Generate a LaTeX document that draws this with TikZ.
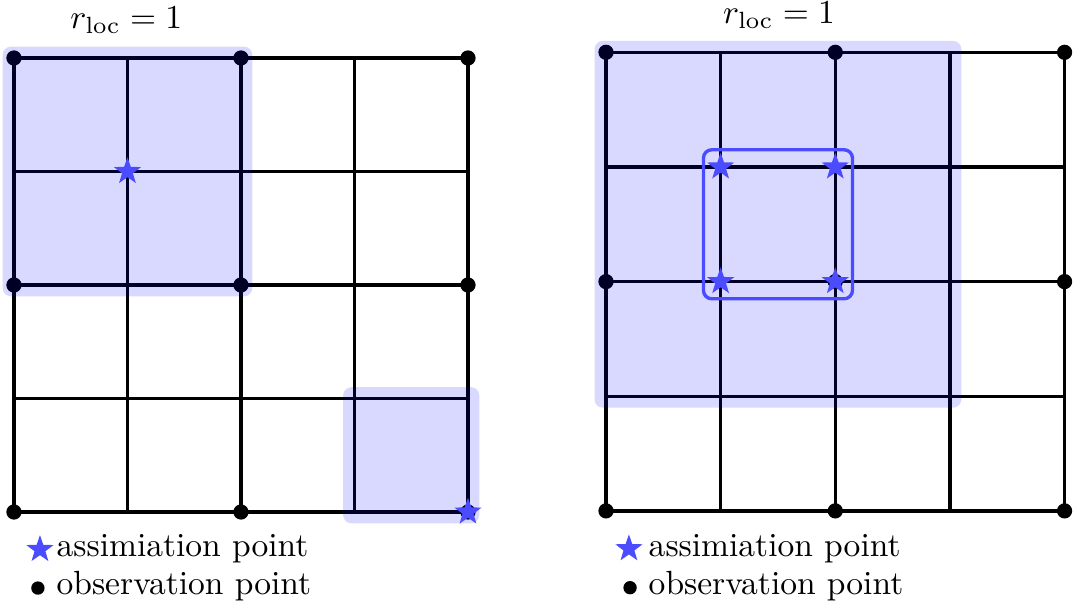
\documentclass[tikz,border=0pt]{standalone}
\usepackage{amsmath}
\usepackage{amssymb}
\usepackage{xcolor}
\usetikzlibrary{shapes.geometric}

\begin{document}
\begin{tikzpicture}[x=1.19cm, y=1.19cm]
        \tikzstyle{gridline} = [line width=1pt, black, step=1]
        \tikzstyle{obs} = [circle, fill=black, inner sep=0pt, minimum size=0.16cm]
        \tikzstyle{assim} = [star, star points=5, star point ratio=2.5, fill=blue!70, inner sep=0pt, minimum size=0.3cm]
        \tikzstyle{region} = [fill=blue, fill opacity=0.15, rounded corners=2.5pt]
        \tikzstyle{window} = [draw=blue!70, line width=1pt, rounded corners=2.5pt]
        \tikzstyle{legend} = [anchor=base west, inner sep=0pt]

        \useasboundingbox (-0.123,-0.872) rectangle (9.348,4.511);

        % left grid
        \draw [gridline] (0,0) grid (4,4);
        \foreach \x in {0,2,4}
            \foreach \y in {0,2,4}
                \node (L\x\y) [obs] at (\x,\y) {};
        \fill [region] (-0.1,1.9) rectangle (2.1,4.1);
        \fill [region] (2.9,-0.1) rectangle (4.1,1.1);
        \node (La) [assim] at (1,3) {};
        \node (Lb) [assim] at (4,0) {};
        \node (Ltitle) [anchor=base] at (0.99,4.264) {$r_{\text{loc}} = 1$};
        \node (Lstar) [assim] at (0.229,-0.33) {};
        \node (Ldot) [obs, minimum size=0.14cm] at (0.211,-0.67) {};
        \node (Lleg1) [legend] at (0.37,-0.396) {assimiation point};
        \node (Lleg2) [legend] at (0.37,-0.731) {observation point};

        % right grid
        \begin{scope}[shift={(5.216,0.01)}, scale=1.01]
        \draw [gridline] (0,0) grid (4,4);
        \foreach \x in {0,2,4}
            \foreach \y in {0,2,4}
                \node (R\x\y) [obs] at (\x,\y) {};
        \fill [region] (-0.1,0.9) rectangle (3.1,4.1);
        \foreach \x/\y [count=\i] in {1/3, 2/3, 1/2, 2/2}
            \node (Ra\i) [assim] at (\x,\y) {};
        \draw [window] (0.85,1.85) rectangle (2.15,3.15);
        \node (Rtitle) [anchor=base] at (1.51,4.25) {$r_{\text{loc}} = 1$};
        \node (Rstar) [assim] at (0.2,-0.33) {};
        \node (Rdot) [obs, minimum size=0.14cm] at (0.21,-0.67) {};
        \node (Rleg1) [legend] at (0.367,-0.396) {assimiation point};
        \node (Rleg2) [legend] at (0.367,-0.731) {observation point};
        \end{scope}
\end{tikzpicture}
\end{document}
